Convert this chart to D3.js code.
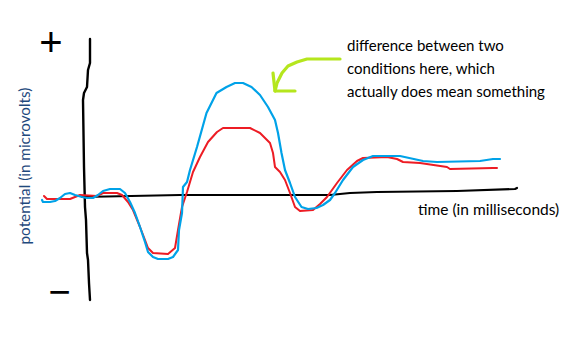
<!DOCTYPE html>
<html><head><meta charset="utf-8">
<script src="https://cdn.jsdelivr.net/npm/d3@7"></script>
<style>html,body{margin:0;padding:0;background:#fff;}svg{display:block;}</style>
</head><body>
<script>
// time in ms, potential in microvolts (hand-drawn sketch)
const blueT = [-86,-84,-70,-60,-50,-40,-30,-20,-6,4,16,26,36,50,70,80,90,100,110,120,126,136,146,166,176,186,188,194,196,204,210,224,243,263,283,300,316,333,350,366,380,386,393,400,410,420,433,446,463,476,490,500,516,536,556,576,630,676,704,790,816,830];
const blueV = [-0.4,-0.6,-0.6,-0.5,-0.2,0.2,0.3,0.1,-0.1,-0.2,-0.2,0.1,0.5,0.7,0.7,0.3,-0.6,-1.7,-3.1,-4.6,-5.6,-6.1,-6.3,-6.3,-6.1,-5.4,-3.4,-1.7,0.9,1.4,2.6,4.9,8.3,10.3,10.9,11.3,11.3,10.9,10.1,8.9,7.6,6.3,4.3,2.6,1.3,-0.1,-1.1,-1.3,-1.2,-0.9,-0.4,0.3,1.6,2.9,3.6,4.0,4.0,3.5,3.4,3.5,3.7,3.7];
const redT = [-82,-80,-76,-70,-30,-10,24,36,64,74,86,96,110,120,126,136,166,180,186,194,204,216,230,246,264,276,330,350,370,376,380,390,400,410,420,430,456,470,484,504,524,544,556,604,624,636,670,724,730,816,824];
const redV = [0,-0.1,-0.3,-0.3,-0.3,0.1,0,0.3,0.3,0.1,-0.6,-1.4,-3.1,-4.4,-5.2,-5.7,-5.8,-5.2,-3.4,-1.1,0.4,2.4,3.9,5.4,6.4,6.8,6.8,6.3,5.3,4.3,2.9,2.4,1.6,0.3,-1.1,-1.5,-1.4,-0.8,-0.1,1.3,2.6,3.5,3.8,3.9,3.7,3.4,3.3,2.9,2.7,2.8,2.8];
// hand-drawn axes
const xAxisT = [-6,190,490,530,584,744,860,864];
const xAxisV = [-0.1,0.1,0.1,0.3,0.4,0.5,0.7,0.8];
const yAxisT = [10,10,6,4,-2,-4,-2,0,2,4,6,8,10];
const yAxisV = [15.7,13.3,12.6,10.9,10.3,9.6,2.9,-1.1,-2.4,-5.7,-6.4,-8.7,-10.4];
// arrow (annotation) in data units
const arrowT = [510,444,424,406,394,384,380];
const arrowV = [13.7,13.7,13.4,13.0,12.3,11.3,10.5];
const arrowHeadT = [376,380,420];
const arrowHeadV = [12.3,10.5,10.5];
const xLabel = "time (in milliseconds)";
const yLabel = "potential (in microvolts)";
const noteLines = ["difference between two","conditions here, which","actually does mean something"];

const W = 571, H = 346;
const svg = d3.select("body").append("svg").attr("width", W).attr("height", H);
const x = d3.scaleLinear().domain([0, 860]).range([85, 515]);
const y = d3.scaleLinear().domain([-10, 15]).range([296, 46]);

const line = d3.line().x(d => x(d[0])).y(d => y(d[1]));
const zip = (a, b) => a.map((v, i) => [v, b[i]]);

function draw(pts, color, width) {
  svg.append("path").attr("d", line(pts)).attr("fill", "none")
    .attr("stroke", color).attr("stroke-width", width)
    .attr("stroke-linejoin", "round").attr("stroke-linecap", "round");
}
draw(zip(xAxisT, xAxisV), "#000", 2.2);
draw(zip(yAxisT, yAxisV), "#000", 2.4);
draw(zip(redT, redV), "#ed1c24", 2);
draw(zip(blueT, blueV), "#00a2e8", 2.2);
draw(zip(arrowT, arrowV), "#b5e61d", 3.2);
draw(zip(arrowHeadT, arrowHeadV), "#b5e61d", 3.2);

// +/- signs
svg.append("text").attr("x", 51).attr("y", 56).attr("text-anchor", "middle")
  .attr("font-family", "Liberation Sans").attr("font-size", 40).attr("fill", "#000").text("+");
svg.append("text").attr("x", 59.5).attr("y", 305).attr("text-anchor", "middle")
  .attr("font-family", "Liberation Sans").attr("font-size", 38).attr("fill", "#000").text("−");

const font = "Lato";
svg.append("text").attr("x", 418).attr("y", 215).attr("font-family", font)
  .attr("font-size", 15.5).attr("fill", "#000").text(xLabel);
svg.append("text").attr("transform", "translate(30,166) rotate(-90)")
  .attr("text-anchor", "middle").attr("font-family", font)
  .attr("font-size", 15.3).attr("fill", "#1f497d").text(yLabel);
svg.selectAll("text.note").data(noteLines).join("text").attr("class", "note")
  .attr("x", 347).attr("y", (d, i) => 51 + i * 23)
  .attr("font-family", font).attr("font-size", 15).attr("fill", "#000").text(d => d);
</script>
</body></html>
